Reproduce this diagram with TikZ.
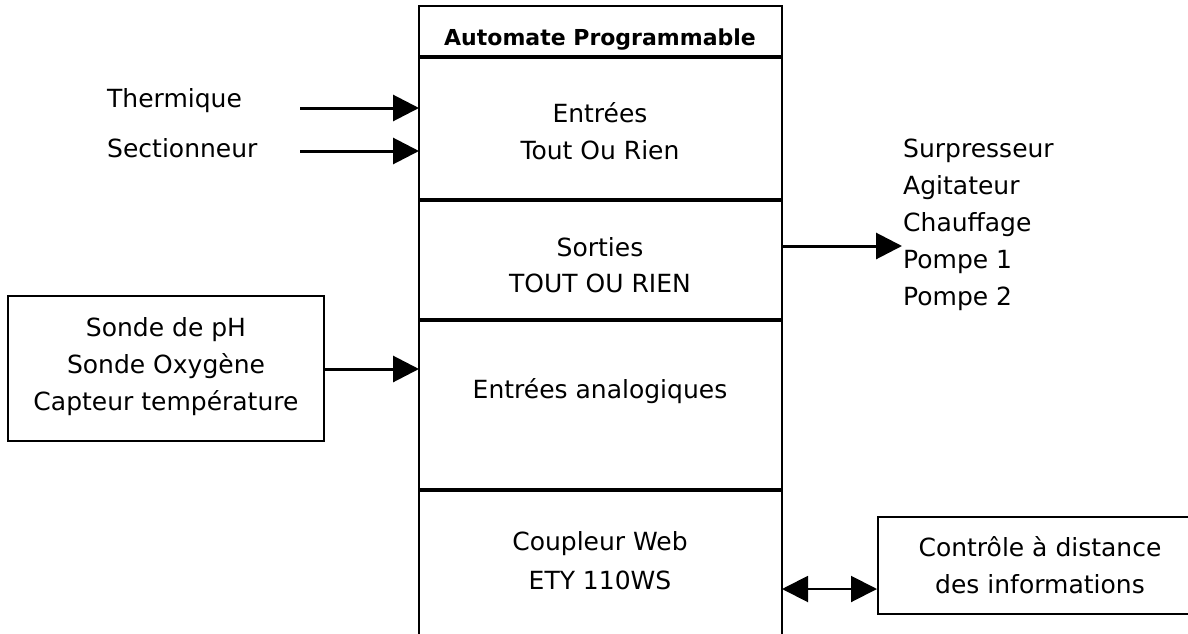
\documentclass[tikz,border=0pt]{standalone}
\usepackage{fontspec}
\setmainfont{DejaVu Sans}
\usetikzlibrary{arrows.meta}
\begin{document}
\begin{tikzpicture}[x=1pt,y=-1pt,
  txt/.style={font=\fontsize{25}{37}\selectfont, inner sep=0pt},
  thin line/.style={line width=1.8pt},
  divider/.style={line width=3.2pt},
  arr/.style={line width=3pt,-{Triangle[length=26pt,width=26pt]}},
  darr/.style={line width=2pt,{Triangle[length=26pt,width=26pt]}-{Triangle[length=26pt,width=26pt]}},
  boxed/.style={draw,line width=1.8pt,inner sep=0pt}]
\useasboundingbox (0,0) rectangle (1188,634);
% main column
\coordinate (mTL) at (419,6);
\coordinate (mTR) at (782,6);
\coordinate (mBL) at (419,634);
\coordinate (mBR) at (782,634);
\draw[thin line] (mBL) -- (mTL) -- (mTR) -- (mBR);
\draw[divider] (419,57) -- (782,57);
\draw[divider] (419,200) -- (782,200);
\draw[divider] (419,320) -- (782,320);
\draw[divider] (419,490) -- (782,490);
\node[txt,font=\fontsize{22}{24}\selectfont\bfseries] (title) at (600,40) {Automate Programmable};
\node[txt] (e1) at (600,113) {Entrées};
\node[txt] (e2) at (600,150) {Tout Ou Rien};
\node[txt] (s1) at (600,247) {Sorties};
\node[txt] (s2) at (600,283) {TOUT OU RIEN};
\node[txt] (ana) at (600,391) {Entrées analogiques};
\node[txt] (c1) at (600,544) {Coupleur Web};
\node[txt] (c2) at (600,580) {ETY 110WS};
% left inputs
\node[txt,anchor=west] (th) at (107,101) {Thermique};
\node[txt,anchor=west] (sec) at (107,148) {Sectionneur};
\coordinate (thA) at (300,108);
\coordinate (thB) at (419,108);
\coordinate (secA) at (300,151);
\coordinate (secB) at (419,151);
\draw[arr] (thA) -- (thB);
\draw[arr] (secA) -- (secB);
% sensors box
\node[boxed,minimum width=316pt,minimum height=145pt] (sens) at (166,368.5) {};
\node[txt,align=center] (senst) at (166,367) {Sonde de pH\\Sonde Oxygène\\Capteur température};
\coordinate (anaB) at (419,369);
\draw[arr] (sens.east |- anaB) -- (anaB);
% outputs
\node[txt,anchor=west,align=left] (outs) at (903,225) {Surpresseur\\Agitateur\\Chauffage\\Pompe 1\\Pompe 2};
\coordinate (oA) at (782,246);
\coordinate (oB) at (902,246);
\draw[arr] (oA) -- (oB);
% remote box
\node[boxed,minimum width=320pt,minimum height=97pt,anchor=west] (rem) at (877,565.5) {};
\node[txt,align=center] (remt) at (1040,565) {Contrôle à distance\\des informations};
\coordinate (rA) at (782,589);
\draw[darr] (rA) -- (rem.west |- rA);
\end{tikzpicture}
\end{document}
